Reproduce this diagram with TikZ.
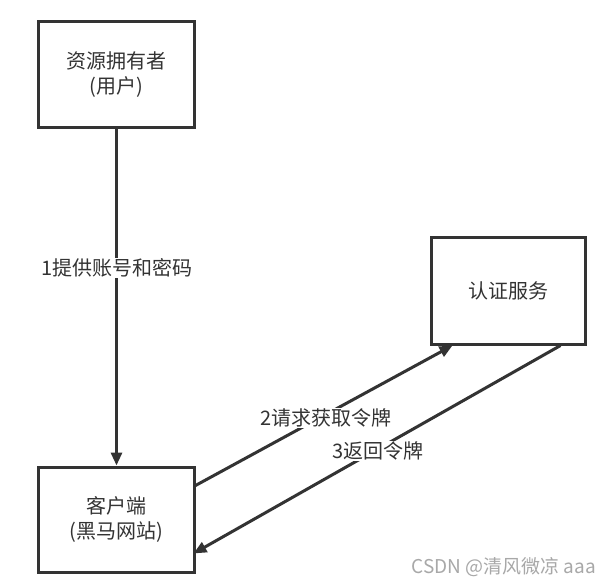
\documentclass[tikz,border=0pt]{standalone}
\usepackage{fontspec}
\setmainfont{Noto Sans CJK SC}
\usetikzlibrary{arrows.meta,calc}
\definecolor{ink}{HTML}{333333}
\definecolor{wm}{HTML}{A8A8A8}
\begin{document}
\begin{tikzpicture}[x=1bp,y=-1bp,
  box/.style={draw=ink,line width=3bp,fill=white,minimum width=155bp,minimum height=106bp,
    align=center,text=ink,font=\fontsize{20bp}{25bp}\selectfont,inner sep=0pt},
  conn/.style={draw=ink,line width=3bp,-{Triangle[length=13bp,width=11bp]}},
  lbl/.style={fill=white,text=ink,font=\fontsize{20bp}{25bp}\selectfont,inner sep=1bp}]
\useasboundingbox (0,0) rectangle (609,585);
\fill[white] (0,0) rectangle (609,585);
\node[box] (owner) at (116.5,75) {资源拥有者\\(用户)};
\node[box,minimum width=154bp,minimum height=107bp] (auth) at (508,290.5) {认证服务};
\node[box,minimum height=105bp] (client) at (116.5,519.5) {客户端\\(黑马网站)};
\coordinate (c2s) at ($(client.north east)+(0,20)$);
\coordinate (c2e) at ($(auth.south west)+(23,0)$);
\coordinate (c3s) at ($(auth.south west)+(131,0)$);
\coordinate (c3e) at ($(client.south east)+(-2,-20)$);
\draw[conn] (owner.south) -- (client.north);
\draw[conn] (c2s) -- (c2e);
\draw[conn] (c3s) -- (c3e);
\node[lbl] (l1) at (117,268) {1提供账号和密码};
\node[lbl] (l2) at (326,418) {2请求获取令牌};
\node[lbl] (l3) at (378,451) {3返回令牌};
\node[text=wm,font=\fontsize{19bp}{20bp}\selectfont,anchor=east,inner sep=0pt] (wmk) at (596,567) {CSDN @清风微凉 aaa};
\end{tikzpicture}
\end{document}
